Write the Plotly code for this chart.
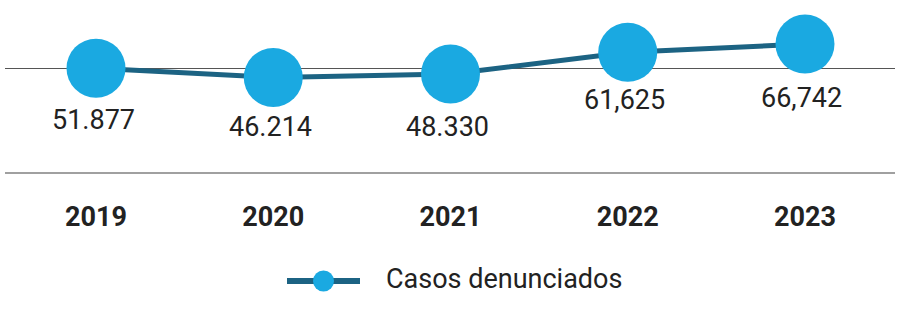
import plotly.graph_objects as go

years = ["2019", "2020", "2021", "2022", "2023"]
casos = [51877, 46214, 48330, 61625, 66742]
labels = ["51.877", "46.214", "48.330", "61,625", "66,742"]
series_name = "Casos denunciados"

LINE_COLOR = "#1c6383"
MARKER_COLOR = "#1aa9e1"
TEXT_COLOR = "#222222"
FONT = "Roboto"
FS = 27

W, H = 900, 313
ML, MR, MT, MB = 5, 5, 0, 141
PW, PH = W - ML - MR, H - MT - MB

def px_x(px):
    return (px - ML) / PW

def px_y(py):
    return (MT + PH - py) / PH

fig = go.Figure()
fig.add_trace(go.Scatter(
    x=years, y=casos, mode="lines+markers",
    line=dict(color=LINE_COLOR, width=5),
    marker=dict(color=MARKER_COLOR, size=59, line=dict(width=0)),
    cliponaxis=False, showlegend=False, name=series_name,
))

# data labels below markers (x given as category index)
label_shift = [-52, -50, -53, -48, -54]
for i, (yv, t, s) in enumerate(zip(casos, labels, label_shift)):
    fig.add_annotation(x=i, y=yv, xref="x", yref="y", text=t, showarrow=False,
                       yanchor="middle", xanchor="center", yshift=s, xshift=-3,
                       font=dict(family=FONT, size=FS, color=TEXT_COLOR))

# custom legend
ly = px_y(281)
fig.add_shape(type="line", xref="paper", yref="paper",
              x0=px_x(287), x1=px_x(360), y0=ly, y1=ly,
              line=dict(color=LINE_COLOR, width=6))
fig.add_shape(type="circle", xref="paper", yref="paper",
              xsizemode="pixel", ysizemode="pixel",
              xanchor=px_x(323.5), yanchor=ly,
              x0=-10.5, x1=10.5, y0=-10.5, y1=10.5,
              fillcolor=MARKER_COLOR, line=dict(width=0))
fig.add_annotation(x=px_x(384), y=px_y(279), xref="paper", yref="paper",
                   xanchor="left", yanchor="middle", showarrow=False,
                   text=series_name,
                   font=dict(family=FONT, size=FS, color=TEXT_COLOR))

fig.update_layout(
    width=W, height=H,
    margin=dict(l=ML, r=MR, t=MT, b=MB),
    paper_bgcolor="white", plot_bgcolor="white",
    font=dict(family=FONT, color=TEXT_COLOR),
    xaxis=dict(type="category", range=[-0.5134, 4.5078],
               showgrid=False, zeroline=False,
               showline=True, linecolor="#a0a0a0", linewidth=2,
               ticks="outside", ticklen=20, tickcolor="rgba(0,0,0,0)",
               tickfont=dict(family=FONT, size=FS, color=TEXT_COLOR, weight="bold")),
    yaxis=dict(range=[-11900, 93800], tickvals=[52000],
               showticklabels=False, showgrid=True, gridcolor="#555555",
               gridwidth=1, zeroline=False, showline=False),
)

fig.write_html("out.html")
